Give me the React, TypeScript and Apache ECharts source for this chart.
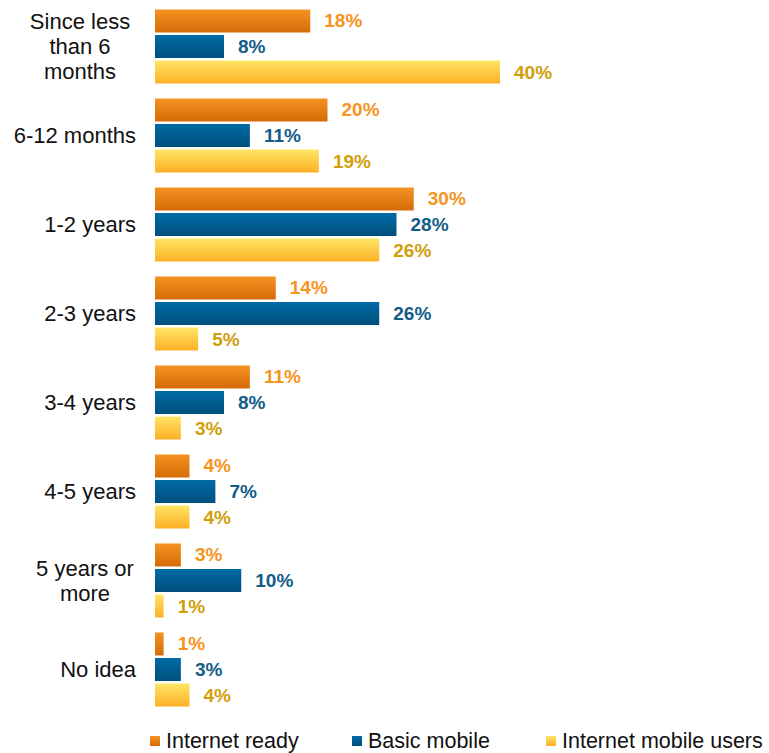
import React, { useEffect, useRef } from "react";
import * as echarts from "echarts";

const categories = [
  "Since less\nthan 6\nmonths",
  "6-12 months",
  "1-2 years",
  "2-3 years",
  "3-4 years",
  "4-5 years",
  "5 years or\nmore",
  "No idea",
];
const internetReady = [18, 20, 30, 14, 11, 4, 3, 1];
const basicMobile = [8, 11, 28, 26, 8, 7, 10, 3];
const internetMobileUsers = [40, 19, 26, 5, 3, 4, 1, 4];
const seriesNames = ["Internet ready", "Basic mobile", "Internet mobile users"];

const FONT = "'Liberation Sans', Arial, sans-serif";

function grad(top: string, bottom: string) {
  return new echarts.graphic.LinearGradient(0, 0, 0, 1, [
    { offset: 0, color: top },
    { offset: 1, color: bottom },
  ]);
}

const barColors: [string, string][] = [
  ["#F59322", "#D56B08"],
  ["#006BA6", "#004F7C"],
  ["#FFE566", "#FCB025"],
];
const labelColors = ["#F7941D", "#145C88", "#D19E0A"];
const legendLefts = [150, 352, 546];

export default function App() {
  const ref = useRef<HTMLDivElement>(null);
  useEffect(() => {
    if (!ref.current) return;
    const chart = echarts.init(ref.current, undefined, { renderer: "svg" });
    const datasets = [internetReady, basicMobile, internetMobileUsers];
    const lab = { fontFamily: FONT, fontSize: 22, color: "#111", lineHeight: 25 };
    chart.setOption({
      animation: false,
      grid: { left: 155, top: 2, height: 712, width: 345 },
      legend: seriesNames.map((name, i) => ({
        left: legendLefts[i],
        top: 729,
        padding: 0,
        itemWidth: 10,
        itemHeight: 10,
        icon: "rect",
        textStyle: { fontFamily: FONT, fontSize: 21.5, color: "#111", lineHeight: 24, padding: [0, 0, 0, 1] },
        data: [{ name, itemStyle: { color: grad(barColors[i][0], barColors[i][1]) } }],
      })),
      xAxis: { type: "value", min: 0, max: 40, show: false },
      yAxis: {
        type: "category",
        inverse: true,
        data: categories,
        axisLine: { show: false },
        axisTick: { show: false },
        axisLabel: {
          margin: 19,
          ...lab,
          formatter: (v: string) => {
            if (v.indexOf("\n") < 0) return v;
            const style = v.startsWith("Since") ? "a" : "b";
            return v
              .split("\n")
              .map((l) => `{${style}|${l}}`)
              .join("\n");
          },
          rich: {
            a: { width: 112, align: "center", ...lab },
            b: { width: 102, align: "center", ...lab },
          },
        },
      },
      series: seriesNames.map((name, i) => ({
        name,
        type: "bar",
        data: datasets[i],
        barWidth: 23,
        barGap: "11%",
        itemStyle: { color: grad(barColors[i][0], barColors[i][1]) },
        label: {
          show: true,
          position: "right",
          distance: 14,
          formatter: "{c}%",
          color: labelColors[i],
          fontFamily: FONT,
          fontWeight: "bold",
          fontSize: 19,
        },
      })),
    });
    return () => chart.dispose();
  }, []);
  return <div ref={ref} style={{ position: "absolute", left: 0, top: 0, width: 769, height: 753 }} />;
}
